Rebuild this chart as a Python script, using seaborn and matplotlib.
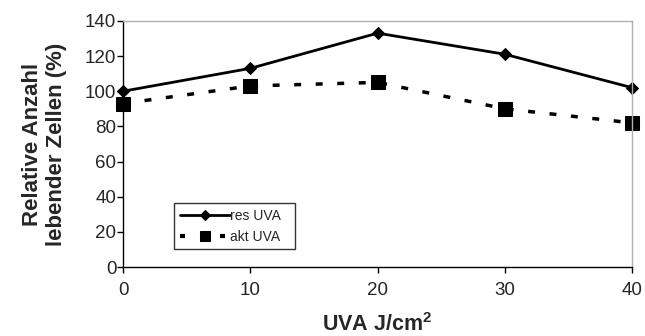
import matplotlib
matplotlib.use("Agg")
import matplotlib.pyplot as plt
import seaborn as sns
import pandas as pd

dose = [0, 10, 20, 30, 40]
res_uva = [100, 113, 133, 121, 102]
akt_uva = [93, 103, 105, 90, 82]
series_names = ["res UVA", "akt UVA"]
y_ticks = [0, 20, 40, 60, 80, 100, 120, 140]
x_ticks = [0, 10, 20, 30, 40]

sns.set_theme(style="white")
plt.rcParams["font.family"] = ["Liberation Sans", "DejaVu Sans"]
plt.rcParams["mathtext.fontset"] = "custom"
plt.rcParams["mathtext.bf"] = "Liberation Sans:bold"
plt.rcParams["mathtext.rm"] = "Liberation Sans"

df = pd.DataFrame({
    "dose": dose * 2,
    "value": res_uva + akt_uva,
    "series": [series_names[0]] * len(dose) + [series_names[1]] * len(dose),
})

fig, ax = plt.subplots(figsize=(6.45, 3.36), dpi=100)
fig.subplots_adjust(left=0.191, right=0.98, top=0.938, bottom=0.205)

sns.lineplot(data=df[df.series == series_names[0]], x="dose", y="value",
             ax=ax, color="black", lw=2, marker="D", markersize=6.5,
             markeredgecolor="black", label=series_names[0], clip_on=False)
sns.lineplot(data=df[df.series == series_names[1]], x="dose", y="value",
             ax=ax, color="black", lw=2.5, marker="s", markersize=10,
             markeredgecolor="black", label=series_names[1], clip_on=False)
ax.lines[1].set_dashes([2, 4.2])

ax.set_xlim(0, 40)
ax.set_ylim(0, 140)
ax.set_xticks(x_ticks)
ax.set_yticks(y_ticks)
ax.tick_params(axis="both", labelsize=13.5, length=4, width=1,
               direction="out", color="black", pad=1)
ax.tick_params(axis="x", pad=7)
ax.xaxis.set_ticks_position("bottom")
ax.yaxis.set_ticks_position("left")

for side in ("left", "bottom"):
    ax.spines[side].set_color("black")
    ax.spines[side].set_linewidth(1)
for side in ("top", "right"):
    ax.spines[side].set_color("#b0b0b0")
    ax.spines[side].set_linewidth(1)

ax.set_xlabel(r"UVA J/cm$\mathbf{^{2}}$", fontsize=15.5, fontweight="bold",
              labelpad=10)
ax.set_ylabel("Relative Anzahl\nlebender Zellen (%)", fontsize=16,
              fontweight="bold", labelpad=13, linespacing=1.15)

leg = ax.legend(loc="lower left", bbox_to_anchor=(0.1, 0.073, 0.237, 0.179),
                mode="expand", fontsize=10, frameon=True, fancybox=False,
                handlelength=3.6, handletextpad=0.0, borderpad=0.4,
                labelspacing=0.5, borderaxespad=0)
leg.get_frame().set_edgecolor("black")
leg.get_frame().set_linewidth(1)
for h in leg.legend_handles:
    if h.get_marker() == "s":
        h.set_markersize(7)
        h.set_linewidth(3)
        h.set_dashes([1.2, 3.6])
    else:
        h.set_markersize(5)

fig.savefig("out.png", dpi=100)
